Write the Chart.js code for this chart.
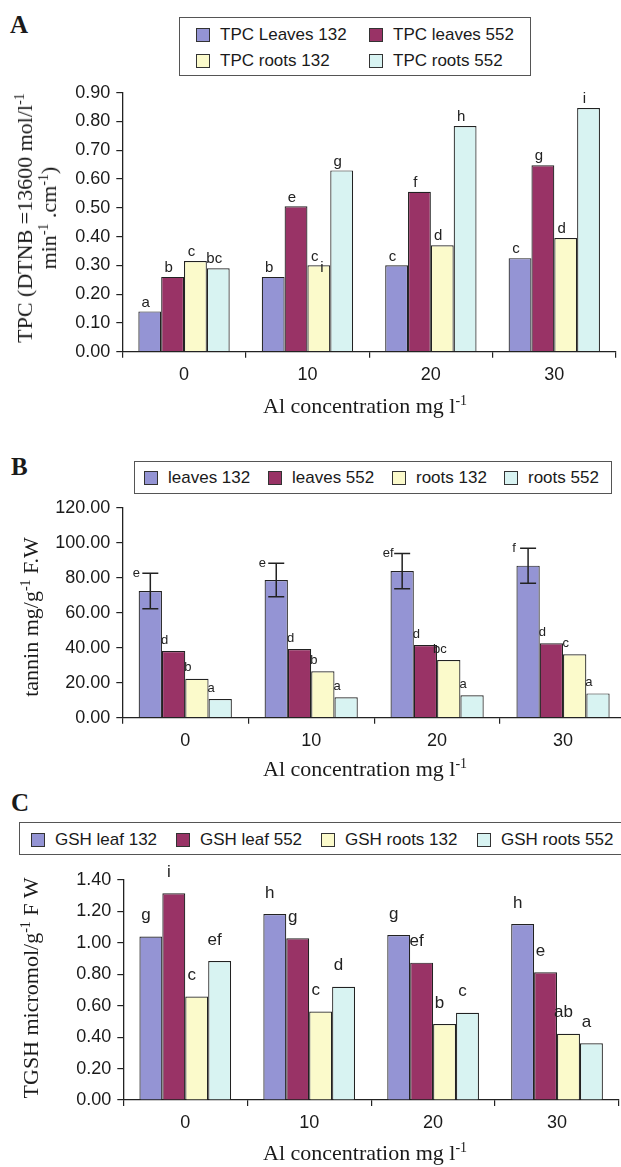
<!DOCTYPE html>
<html>
<head>
<meta charset="utf-8">
<script src="https://cdn.jsdelivr.net/npm/chart.js"></script>
<style>
  html, body { margin: 0; padding: 0; background: #fff; }
  body { width: 621px; height: 1167px; overflow: hidden; position: relative; }
  canvas { position: absolute; left: 0; }
  .txt { position: absolute; white-space: nowrap; color: #1a1a1a; }
  .serif { font-family: 'Liberation Serif', 'Times New Roman', serif; font-size: 22px; line-height: 24px; }
  .panel { font-family: 'Liberation Serif', 'Times New Roman', serif; font-weight: bold; font-size: 25px; line-height: 25px; }
  .rot { transform: translate(-50%, -50%) rotate(-90deg); text-align: center; }
  sup { font-size: 14px; line-height: 0; vertical-align: 8px; }
  .legbox { position: absolute; border: 1.5px solid #555; box-sizing: border-box; background: #fff; }
  .legtxt { position: absolute; font-family: 'Liberation Sans', Arial, sans-serif; font-size: 17px; line-height: 20px; color: #1a1a1a; white-space: nowrap; }
  .mark { position: absolute; width: 14px; height: 14px; box-sizing: border-box; border: 1.3px solid #333; }
</style>
</head>
<body>
<div class="txt panel" style="left:10px; top:12px">A</div>
<div class="txt panel" style="left:11px; top:454px">B</div>
<div class="txt panel" style="left:11px; top:790px">C</div>

<canvas id="chartA" width="621" height="430" style="top:0px"></canvas>
<canvas id="chartB" width="640" height="360" style="top:430px"></canvas>
<canvas id="chartC" width="621" height="377" style="top:790px"></canvas>

<div class="txt serif rot" style="left:37px; top:218px">TPC (DTNB =13600 mol/l<sup>-1</sup><br>min<sup>-1</sup> .cm<sup>-1</sup>)</div>
<div class="txt serif rot" style="left:31px; top:617px">tannin mg/g<sup>-1</sup> F.W</div>
<div class="txt serif rot" style="left:31px; top:988px">TGSH micromol/g<sup>-1</sup> F W</div>

<div class="txt serif" style="left:263px; top:394px">Al concentration mg l<sup>-1</sup></div>
<div class="txt serif" style="left:263px; top:757px">Al concentration mg l<sup>-1</sup></div>
<div class="txt serif" style="left:263px; top:1141px">Al concentration mg l<sup>-1</sup></div>

<div id="legends"></div>

<script>
// ---------------- datos
const categories = ['0', '10', '20', '30']

// A - TPC
const tpcLeaves132 = [0.14, 0.26, 0.30, 0.325]
const tpcLeaves552 = [0.26, 0.505, 0.556, 0.648]
const tpcRoots132 = [0.315, 0.30, 0.37, 0.395]
const tpcRoots552 = [0.29, 0.63, 0.784, 0.847]
const tpcLetters = [['a', 'b', 'c', 'c'], ['b', 'e', 'f', 'g'], ['c', 'c_i', 'd', 'd'], ['bc', 'g', 'h', 'i']]

// B - tanino
const tanninLeaves132 = [72.4, 78.7, 83.8, 86.9]
const tanninLeaves132Err = [10.2, 9.6, 10.1, 10.0]
const tanninLeaves552 = [38.1, 39.3, 41.5, 42.5]
const tanninRoots132 = [22.3, 26.5, 33.0, 36.2]
const tanninRoots552 = [10.7, 11.7, 12.8, 13.9]
const tanninLetters = [['e', 'e', 'ef', 'f'], ['d', 'd', 'd', 'd'], ['b', 'b', 'bc', 'c'], ['a', 'a', 'a', 'a']]

// C - GSH
const gshLeaf132 = [1.04, 1.183, 1.05, 1.12]
const gshLeaf552 = [1.315, 1.029, 0.874, 0.813]
const gshRoots132 = [0.658, 0.563, 0.484, 0.422]
const gshRoots552 = [0.885, 0.721, 0.555, 0.361]
const gshLetters = [['g', 'h', 'g', 'h'], ['i', 'g', 'ef', 'e'], ['c', 'c', 'b', 'ab'], ['ef', 'd', 'c', 'a']]

const colores = ['#9494d4', '#993366', '#fbfacb', '#d8f3f2']
const sans = "'Liberation Sans', Arial, sans-serif"

// letras de significancia sobre cada barra
const lettersPlugin = {
    id: 'letters',
    afterDatasetsDraw(chart, args, opts) {
        const ctx = chart.ctx
        const yScale = chart.scales.y
        ctx.save()
        ctx.font = `${opts.size}px ${sans}`
        ctx.fillStyle = '#222'
        ctx.textAlign = 'center'
        ctx.textBaseline = 'middle'
        chart.data.datasets.forEach((ds, i) => {
            if (!ds.letters) return
            chart.getDatasetMeta(i).data.forEach((bar, j) => {
                let base = bar.y
                let dx = opts.dx
                let dy = opts.dy
                if (ds.errors) {
                    base = yScale.getPixelForValue(ds.data[j] + ds.errors[j])
                    dx = opts.errDx
                    dy = opts.errDy
                }
                const [main, sub] = ds.letters[j].split('_')
                ctx.fillText(main, bar.x + dx, base - dy)
                if (sub) ctx.fillText(sub, bar.x + dx + 7, base - dy + 11)
            })
        })
        ctx.restore()
    }
}

// barras de error (solo panel B)
const errorPlugin = {
    id: 'errbars',
    afterDatasetsDraw(chart) {
        const ctx = chart.ctx
        const yScale = chart.scales.y
        ctx.save()
        ctx.strokeStyle = '#222'
        ctx.lineWidth = 1.5
        chart.data.datasets.forEach((ds, i) => {
            if (!ds.errors) return
            chart.getDatasetMeta(i).data.forEach((bar, j) => {
                const yt = yScale.getPixelForValue(ds.data[j] + ds.errors[j])
                const yb = yScale.getPixelForValue(ds.data[j] - ds.errors[j])
                ctx.beginPath()
                ctx.moveTo(bar.x, yt); ctx.lineTo(bar.x, yb)
                ctx.moveTo(bar.x - 8, yt); ctx.lineTo(bar.x + 8, yt)
                ctx.moveTo(bar.x - 8, yb); ctx.lineTo(bar.x + 8, yb)
                ctx.stroke()
            })
        })
        ctx.restore()
    }
}

const crearPanel = (id, series, letras, conf) => {
    const ctx = document.getElementById(id).getContext('2d')
    const datasets = series.map((s, i) => ({
        label: s.name,
        data: s.data,
        errors: s.errors,
        letters: letras[i],
        backgroundColor: colores[i],
        borderColor: '#222',
        borderWidth: 1.2,
        categoryPercentage: 0.74,
        barPercentage: 1
    }))
    return new Chart(ctx, {
        type: 'bar',
        data: { labels: categories, datasets },
        plugins: [errorPlugin, lettersPlugin],
        options: {
            responsive: false,
            animation: false,
            layout: { padding: { top: conf.top, right: conf.right, left: 0, bottom: 0 } },
            plugins: {
                legend: { display: false },
                tooltip: { enabled: false },
                letters: conf.letters
            },
            scales: {
                x: {
                    grid: { offset: true, drawOnChartArea: false, tickLength: 6, color: '#222', lineWidth: 1.2 },
                    border: { color: '#222', width: 1.3 },
                    ticks: { font: { family: sans, size: 18 }, color: '#1a1a1a', padding: conf.xPad },
                    afterFit: s => { s.height = conf.xHeight }
                },
                y: {
                    min: 0,
                    max: conf.max,
                    grid: { drawOnChartArea: false, tickLength: 6, color: '#222', lineWidth: 1.2 },
                    border: { color: '#222', width: 1.3 },
                    ticks: {
                        stepSize: conf.step,
                        font: { family: sans, size: 18 },
                        color: '#1a1a1a',
                        padding: 6,
                        callback: v => Number(v).toFixed(2)
                    },
                    afterFit: s => { s.width = conf.yWidth }
                }
            }
        }
    })
}

crearPanel('chartA', [
    { name: 'TPC Leaves 132', data: tpcLeaves132 },
    { name: 'TPC leaves 552', data: tpcLeaves552 },
    { name: 'TPC roots 132', data: tpcRoots132 },
    { name: 'TPC roots 552', data: tpcRoots552 }
], tpcLetters, { top: 92.7, right: 5, yWidth: 122.3, xHeight: 78.3, xPad: 7, max: 0.9, step: 0.1,
    letters: { size: 15, dx: -4, dy: 9 } })

crearPanel('chartB', [
    { name: 'leaves 132', data: tanninLeaves132, errors: tanninLeaves132Err },
    { name: 'leaves 552', data: tanninLeaves552 },
    { name: 'roots 132', data: tanninRoots132 },
    { name: 'roots 552', data: tanninRoots552 }
], tanninLetters, { top: 77.7, right: 14, yWidth: 122.3, xHeight: 72.3, xPad: 7, max: 120, step: 20,
    letters: { size: 13, dx: -9, dy: 11, errDx: -14, errDy: 0 } })

crearPanel('chartC', [
    { name: 'GSH leaf 132', data: gshLeaf132 },
    { name: 'GSH leaf 552', data: gshLeaf552 },
    { name: 'GSH roots 132', data: gshRoots132 },
    { name: 'GSH roots 552', data: gshRoots552 }
], gshLetters, { top: 90, right: 2, yWidth: 123.3, xHeight: 67, xPad: 6, max: 1.4, step: 0.2,
    letters: { size: 17, dx: -5, dy: 21 } })

// ---------------- leyendas en HTML (caja con borde, como en la figura)
const leyendas = [
    { box: [179, 17, 352, 59], items: [
        ['TPC Leaves 132', 196, 28], ['TPC leaves 552', 369, 28],
        ['TPC roots 132', 196, 54], ['TPC roots 552', 369, 54]] },
    { box: [134, 461, 478, 33], items: [
        ['leaves 132', 144, 471], ['leaves 552', 268, 471],
        ['roots 132', 392, 471], ['roots 552', 504, 471]] },
    { box: [19, 822, 640, 33], items: [
        ['GSH leaf 132', 31, 833], ['GSH leaf 552', 176, 833],
        ['GSH roots 132', 321, 833], ['GSH roots 552', 477, 833]] }
]
const legendsSelector = document.querySelector('#legends')
leyendas.forEach(l => {
    const [x, y, w, h] = l.box
    legendsSelector.insertAdjacentHTML('beforeend',
        `<div class="legbox" style="left:${x}px;top:${y}px;width:${w}px;height:${h}px"></div>`)
    l.items.forEach(([txt, mx, my], i) => {
        legendsSelector.insertAdjacentHTML('beforeend',
            `<div class="mark" style="left:${mx}px;top:${my}px;background:${colores[i]}"></div>` +
            `<div class="legtxt" style="left:${mx + 24}px;top:${my - 3}px">${txt}</div>`)
    })
})
</script>
</body>
</html>
